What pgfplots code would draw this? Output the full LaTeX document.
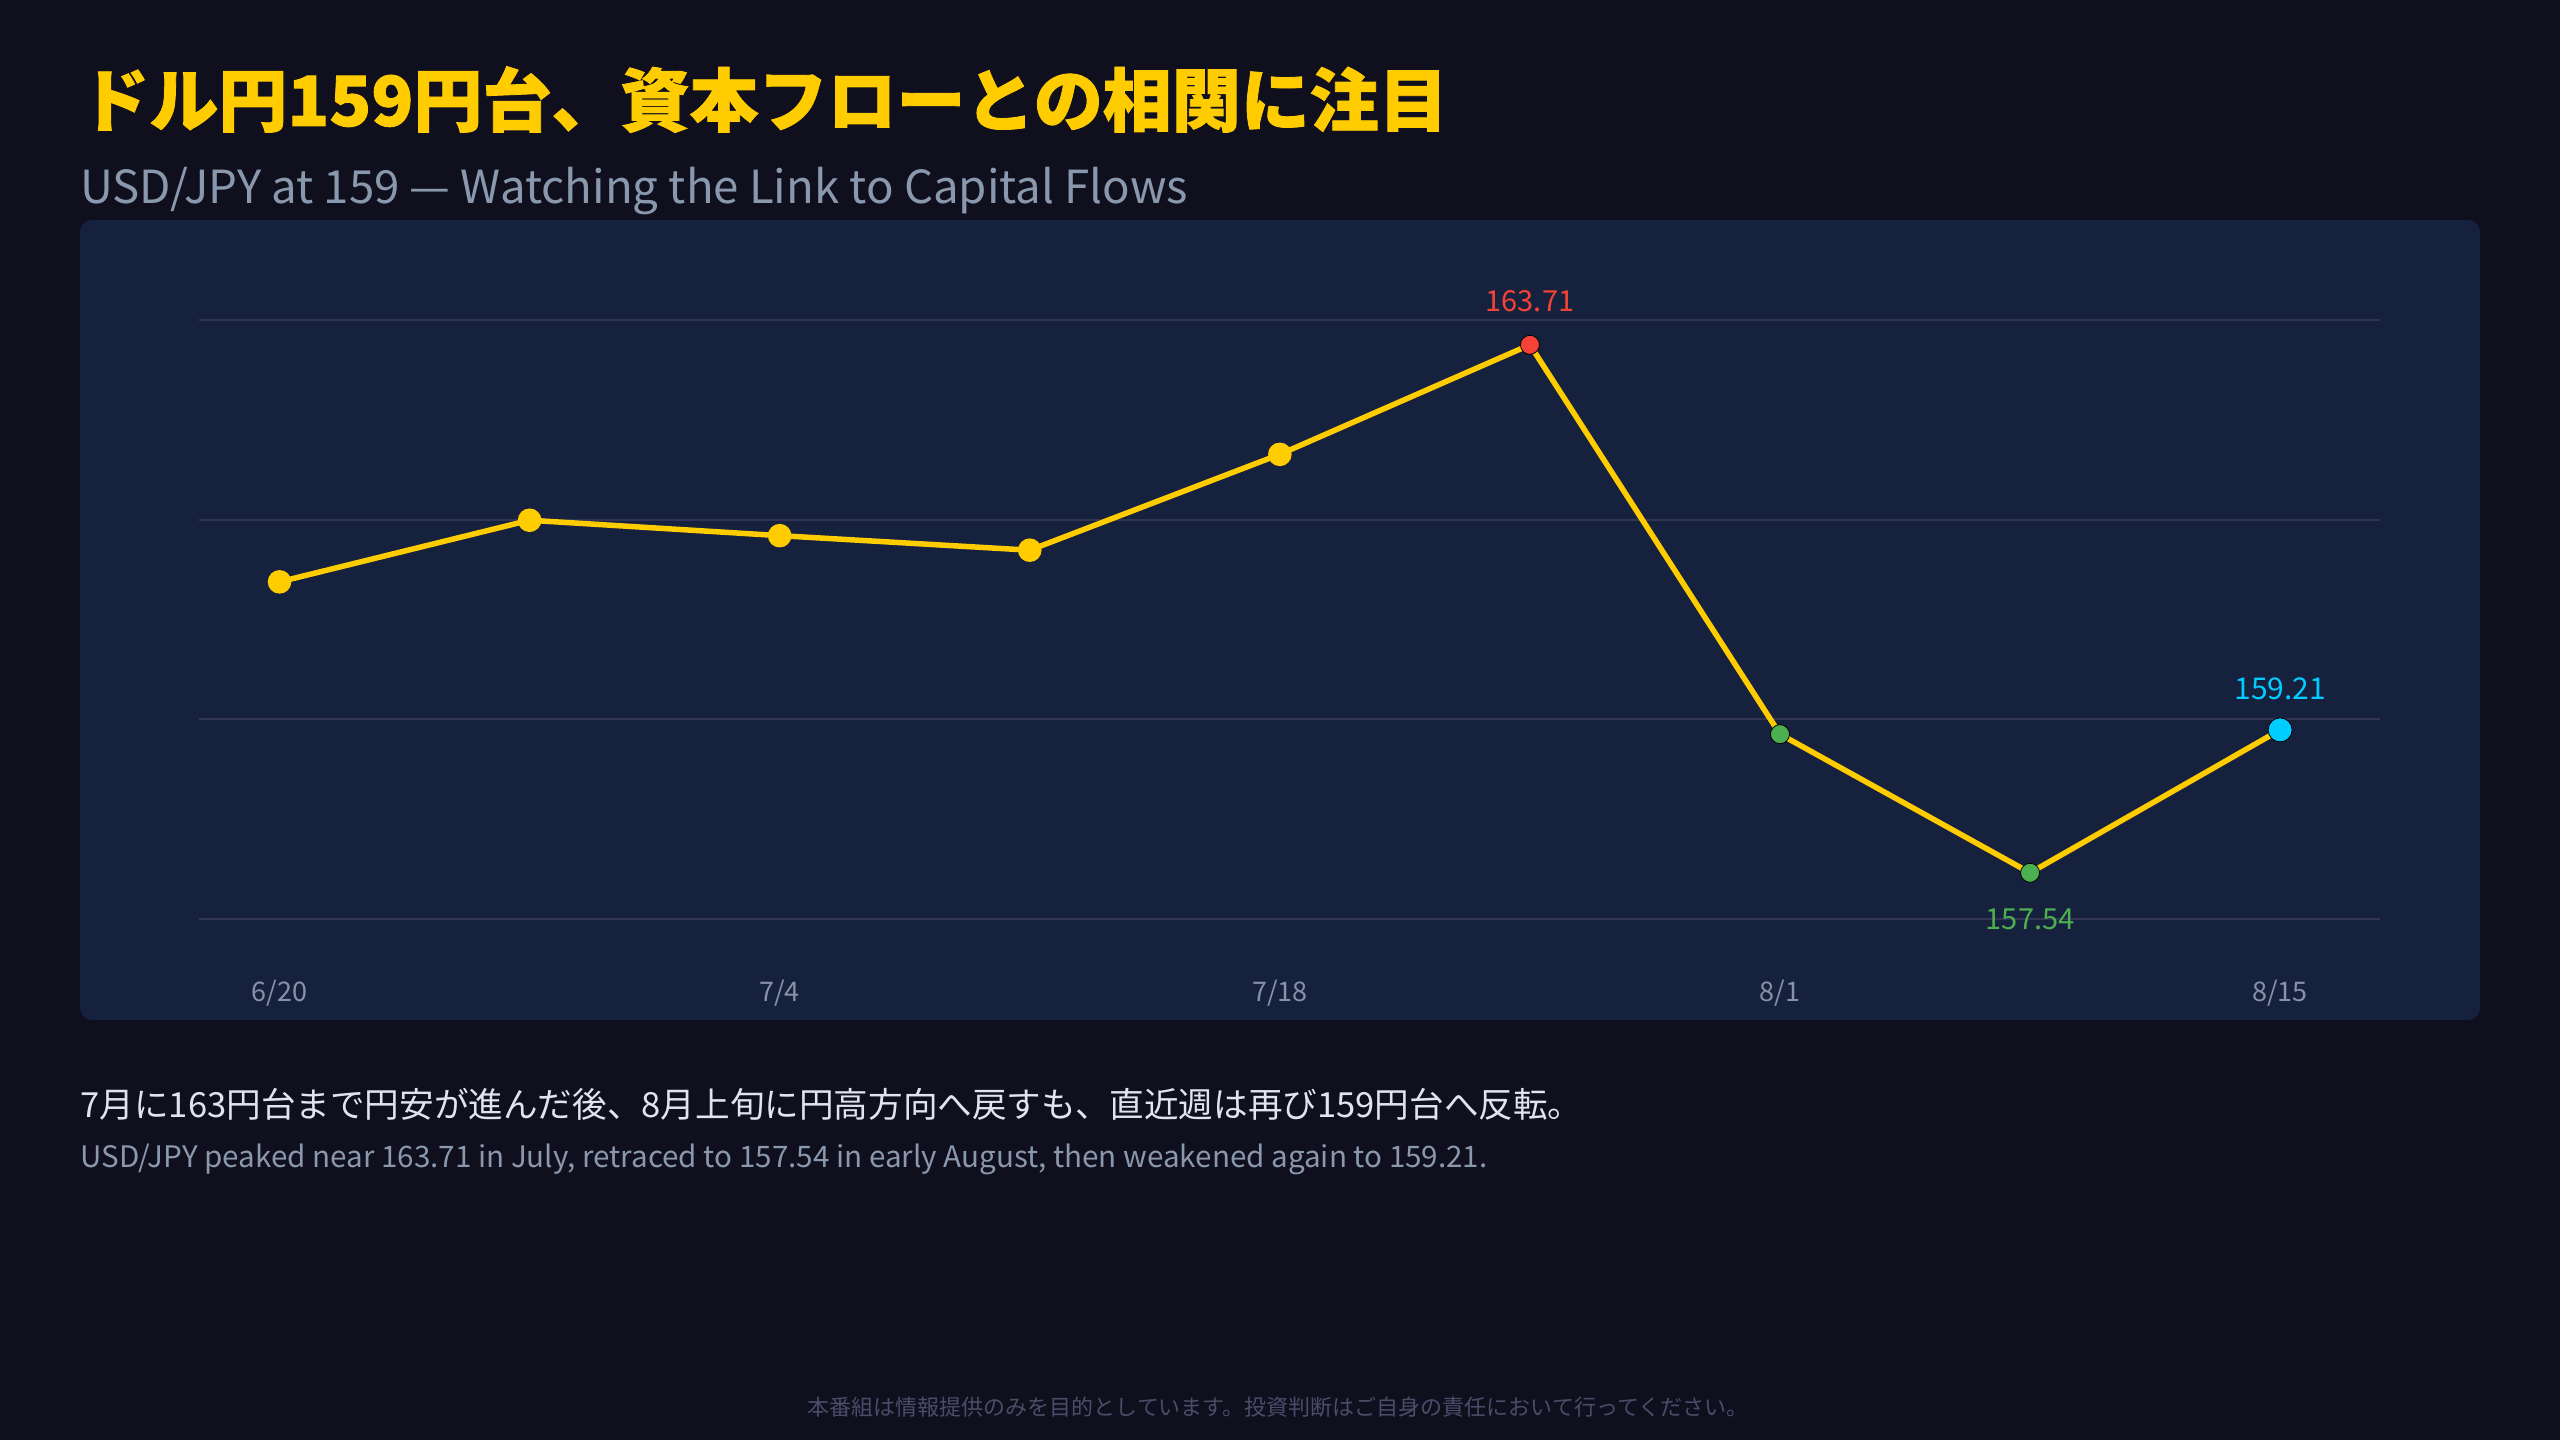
\documentclass[border=0pt]{standalone}
\usepackage{fontspec}
\setmainfont{Noto Sans CJK JP}
\newfontfamily\titlefont[BoldFeatures={FakeBold=1.2}]{Noto Sans CJK JP}
\usepackage{pgfplots}
\pgfplotsset{compat=1.18}

\definecolor{bgc}{RGB}{15,15,30}
\definecolor{panelc}{RGB}{22,33,62}
\definecolor{gridc}{RGB}{50,52,84}
\definecolor{titley}{RGB}{255,204,0}
\definecolor{lineyel}{RGB}{255,204,0}
\definecolor{subgray}{RGB}{138,152,174}
\definecolor{tickgray}{RGB}{136,146,166}
\definecolor{bodyc}{RGB}{224,228,238}
\definecolor{footc}{RGB}{76,76,106}
\definecolor{ptred}{RGB}{244,67,54}
\definecolor{ptgreen}{RGB}{76,175,80}
\definecolor{ptcyan}{RGB}{0,204,255}

\newcommand{\fs}[1]{\fontsize{#1bp}{1.2\dimexpr#1bp\relax}\selectfont}

\begin{document}
\begin{tikzpicture}
% page layout in reference pixels (1 px = 0.5 bp, y downward)
\begin{scope}[x=0.5bp, y=-0.5bp, shift={(0bp,720bp)}]
  \fill[bgc] (0,0) rectangle (2560,1440);
  \fill[panelc, rounded corners=6bp] (80,220) rectangle (2480,1020);
  \node[anchor=base west, inner sep=0pt, text=titley, font=\titlefont\bfseries\fs{34.5}]
    at (80,126) {ドル円159円台、資本フローとの相関に注目};
  \node[anchor=base west, inner sep=0pt, text=subgray, font=\fs{22.8}]
    at (80,204) {USD/JPY at 159 — Watching the Link to Capital Flows};
  \node[anchor=base west, inner sep=0pt, text=bodyc, font=\fs{17.3}]
    at (80,1118) {7月に163円台まで円安が進んだ後、8月上旬に円高方向へ戻すも、直近週は再び159円台へ反転。};
  \node[anchor=base west, inner sep=0pt, text=subgray, font=\fs{14.8}]
    at (80,1168) {USD/JPY peaked near 163.71 in July, retraced to 157.54 in early August, then weakened again to 159.21.};
  \node[anchor=base, inner sep=0pt, text=footc, font=\fs{11}]
    at (1278,1416) {本番組は情報提供のみを目的としています。投資判断はご自身の責任において行ってください。};
\end{scope}

\begin{axis}[
  at={(99.5bp,260.5bp)}, anchor=south west,
  scale only axis,
  width=1090.5bp, height=299.5bp,
  xmin=-0.322, xmax=8.40,
  ymin=157, ymax=164,
  ytick={157,159.3333,161.6667,164},
  yticklabels={},
  ymajorgrids,
  grid style={color=gridc, line width=1bp},
  xtick={0,2,4,6,8},
  xticklabels={6/20,7/4,7/18,8/1,8/15},
  xticklabel style={anchor=base, yshift=-41bp, inner sep=0pt,
    font=\fs{13.5}, text=tickgray},
  /pgf/number format/assume math mode=true,
  axis line style={draw=none},
  tick style={draw=none},
  clip=false,
]
\addplot[color=lineyel, line width=2.75bp, mark=*, mark size=4.5bp,
  mark indices={1,2,3,4,5}, mark options={fill=lineyel, draw=none}]
  coordinates {
  (0,160.94) (1,161.66) (2,161.48) (3,161.31) (4,162.43)
  (5,163.71) (6,159.16) (7,157.54) (8,159.21)
};
\addplot[only marks, mark=*, mark size=4.75bp,
  mark options={fill=ptred, draw=none},
  nodes near coords, point meta=explicit symbolic,
  nodes near coords style={font=\fs{14.5}, text=ptred, anchor=base,
    yshift=16.5bp, inner sep=0pt}]
  coordinates {(5,163.71) [163.71]};
\addplot[only marks, mark=*, mark size=4.75bp,
  mark options={fill=ptgreen, draw=none}]
  coordinates {(6,159.16)};
\addplot[only marks, mark=*, mark size=4.75bp,
  mark options={fill=ptgreen, draw=none},
  nodes near coords, point meta=explicit symbolic,
  nodes near coords style={font=\fs{14.5}, text=ptgreen, anchor=base,
    yshift=-28.5bp, inner sep=0pt}]
  coordinates {(7,157.54) [157.54]};
\addplot[only marks, mark=*, mark size=6bp,
  mark options={fill=ptcyan, draw=none},
  nodes near coords, point meta=explicit symbolic,
  nodes near coords style={font=\fs{15}, text=ptcyan, anchor=base,
    yshift=15bp, inner sep=0pt}]
  coordinates {(8,159.21) [159.21]};
\end{axis}
\end{tikzpicture}
\end{document}
